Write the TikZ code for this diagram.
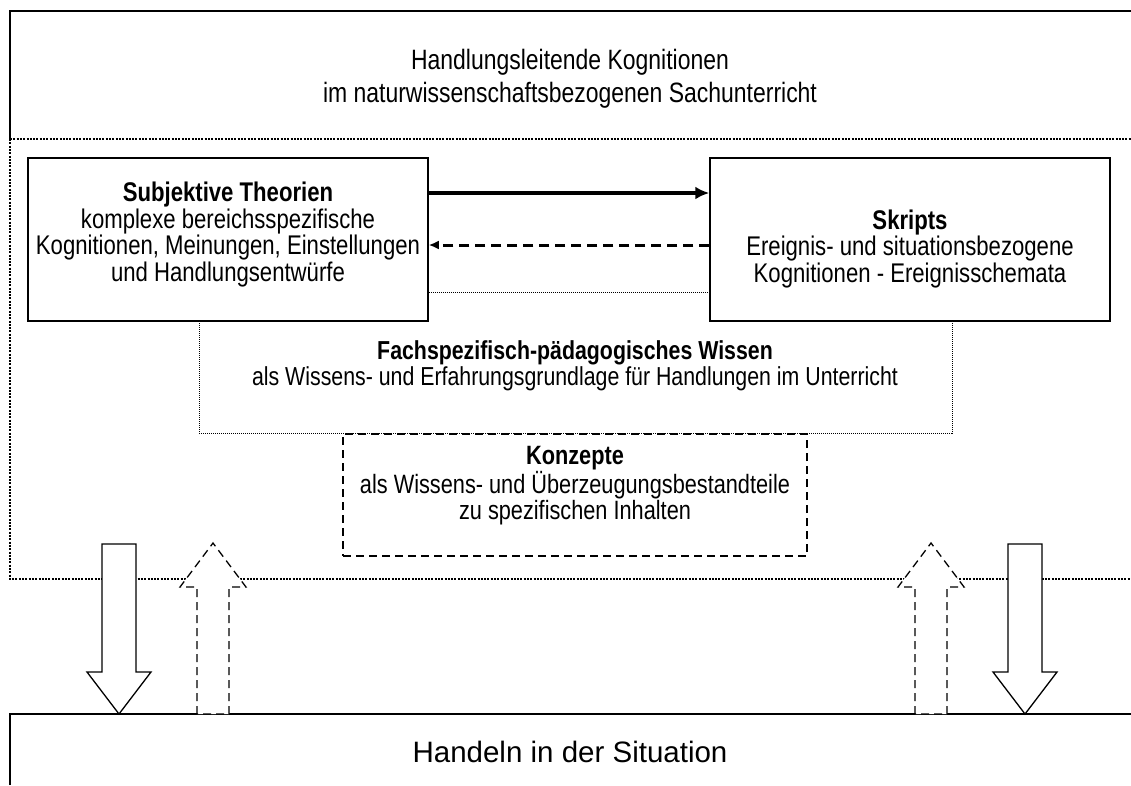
\documentclass[tikz,border=0pt]{standalone}
\usepackage{fontspec}
\setmainfont[FakeStretch=0.82]{Liberation Sans}
\newfontfamily\widefont{Liberation Sans}
\usetikzlibrary{arrows.meta}

\begin{document}
\begin{tikzpicture}
		[x=1pt,y=-1pt]
			\tikzstyle{every node}=[align=center, inner sep=0pt,
		font=\fontsize{27}{26.5}\selectfont]
			\tikzstyle{kbox}=[draw, line width=1.5pt, fill=white,
		minimum width=400pt, minimum height=163pt]
			\tikzstyle{dotline}=[line width=2.2pt, dash pattern=on 2pt off 1.3pt]
			\tikzstyle{dashline}=[line width=1.3pt, dash pattern=on 8pt off 5pt]
		\useasboundingbox (0,0) rectangle (1131,785);
		%-----frames
		 \draw[line width=1.3pt] (1131,11) -- (10,11) -- (10,139);
		 \draw[dotline] (10,139) -- (1131,139);
		 \draw[dotline] (10,139) -- (10,579) -- (1131,579);
		 \draw[line width=1.3pt] (10,785) -- (10,714) -- (1131,714);
		 \node[font=\fontsize{28}{33}\selectfont] (title) at (570,79)
		  {Handlungsleitende Kognitionen\\im naturwissenschaftsbezogenen Sachunterricht};
		 \node[font=\widefont\fontsize{29.5}{32}\selectfont] (handeln) at (570,752) {Handeln in der Situation};
		%-----knowledge
		 \node[draw, line width=0.8pt, dash pattern=on 1pt off 1pt,
		  minimum width=753pt, minimum height=141pt] (fach) at (575.5,362.5) {};
		 \node[font=\fontsize{26}{26.5}\selectfont] (fachtxt) at (575,366)
		  {\textbf{Fachspezifisch-pädagogisches Wissen}\\als Wissens- und Erfahrungsgrundlage für Handlungen im Unterricht};
		 \node[draw, dashline, minimum width=464pt, minimum height=122pt] (konz) at (575,495) {};
		 \node[font=\fontsize{26.5}{26.5}\selectfont] (konztxt) at (575,486)
		  {\textbf{Konzepte}\\als Wissens- und Überzeugungsbestandteile\\zu spezifischen Inhalten};
		%-----cognitions
		 \node[kbox] (subj) at (228,239.5) {};
		 \node (subjtxt) at (228,234.5) {\textbf{Subjektive Theorien}\\komplexe bereichsspezifische\\Kognitionen, Meinungen, Einstellungen\\und Handlungsentwürfe};
		 \node[kbox] (skr) at (910,239.5) {};
		 \node (skrtxt) at (910,249) {\textbf{Skripts}\\Ereignis- und situationsbezogene\\Kognitionen - Ereignisschemata};
		 \draw[line width=3.2pt, -{Latex[length=14pt,width=13pt]}]
		  ([yshift=46.5pt]subj.east) -- ([yshift=46.5pt]skr.west);
		 \draw[line width=3pt, dash pattern=on 10pt off 6pt, -{Latex[length=10pt,width=9pt]}]
		  ([yshift=-5.5pt]skr.west) -- ([yshift=-5.5pt]subj.west -| subj.east);
		%-----block arrows
		 \foreach \x in {119,1025}
		 \draw[line width=1.3pt, fill=white] (\x-17,544) -- (\x-17,672) -- (\x-32,672) -- (\x,714)
		  -- (\x+32,672) -- (\x+17,672) -- (\x+17,544) -- cycle;
		 \foreach \x in {213,931}
		 \draw[dashline, fill=white] (\x-16,714) -- (\x-16,587) -- (\x-33,587) -- (\x,543)
		  -- (\x+33,587) -- (\x+16,587) -- (\x+16,714) -- cycle;
		 	\end{tikzpicture}
\end{document}
